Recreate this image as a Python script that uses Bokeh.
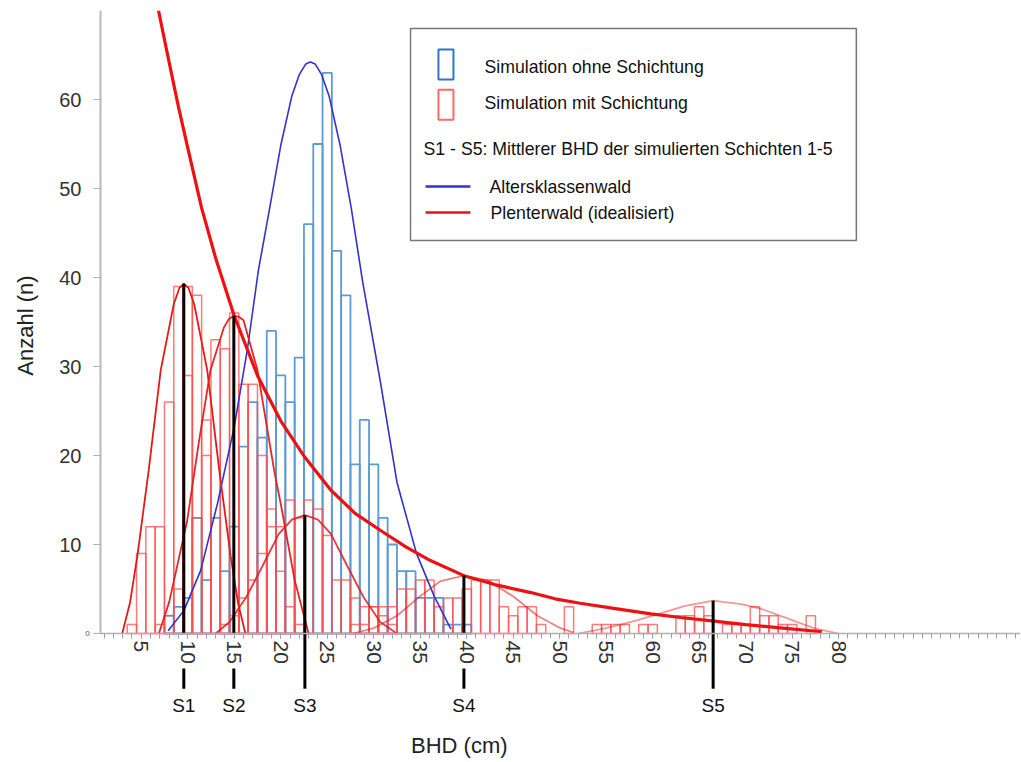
from math import pi
from bokeh.plotting import figure
from bokeh.models import FixedTicker, Range1d
from bokeh.core.properties import value
from bokeh.embed import file_html
from bokeh.resources import INLINE

FONT = "Liberation Sans"

# ---------------- data ----------------
# Simulation ohne Schichtung (blue histogram), BHD class -> count
blue_bins = [8, 9, 10, 11, 12, 13, 14, 15, 16, 17, 18, 19, 20, 21, 22, 23, 24, 25, 26,
             27, 28, 29, 30, 31, 32, 33, 34, 35, 36, 37, 38, 39, 40]
blue_counts = [2, 3, 4, 13, 6, 13, 7, 12, 21, 26, 22, 34, 29, 26, 31, 46, 55, 63, 43,
               38, 19, 24, 19, 13, 10, 7, 7, 4, 4, 4, 1, 1, 1]

# Simulation mit Schichtung (red histograms, one per simulated layer)
red_s1_bins = [4, 5, 6, 7, 8, 9, 10, 11, 12]
red_s1_counts = [1, 9, 12, 12, 26, 39, 39, 38, 24]
red_s2_bins = [7, 8, 9, 10, 11, 12, 13, 14, 15, 16, 17, 18, 19, 20, 21, 22]
red_s2_counts = [1, 2, 5, 29, 13, 20, 33, 32, 36, 28, 28, 20, 14, 7, 3, 1]
red_s3_bins = [14, 15, 16, 17, 18, 19, 20, 21, 22, 23, 24, 25, 26, 27, 28, 29, 30, 31, 32]
red_s3_counts = [1, 2, 4, 6, 9, 12, 12, 15, 13, 15, 14, 11, 6, 6, 4, 3, 3, 2, 1]
red_s4_bins = [28, 29, 30, 31, 32, 33, 34, 35, 36, 37, 38, 39, 40, 41, 42, 43, 44, 45,
               46, 47, 48, 51]
red_s4_counts = [1, 1, 3, 3, 3, 5, 5, 6, 6, 3, 4, 4, 5, 6, 6, 6, 3, 2, 3, 3, 1, 3]
red_s5_bins = [54, 55, 56, 57, 59, 60, 63, 64, 65, 66, 68, 69, 70, 71, 72, 73, 74, 75, 77]
red_s5_counts = [1, 1, 1, 1, 1, 1, 2, 2, 3, 2, 1, 1, 1, 3, 2, 2, 1, 1, 2]

# Altersklassenwald (blue curve)
aklw_x = [7.9, 9.6, 11.4, 13.2, 15.0, 16.4, 17.6, 18.8, 20.0, 21.2, 22.0, 22.7, 23.2,
          23.7, 24.4, 25.2, 26.4, 27.6, 28.8, 30.7, 32.5, 34.6, 36.5, 38.3]
aklw_y = [0.3, 2.6, 7.1, 14.6, 23.2, 31.8, 40.8, 47.7, 54.8, 60.4, 62.8, 64.0, 64.2,
          64.0, 62.8, 60.4, 54.8, 47.7, 39.6, 28.4, 17.0, 9.0, 4.2, 0.5]

# Plenterwald (idealisiert), thick red curve
plw_x = [6.86, 8.0, 9.0, 10.0, 11.5, 13.0, 15.0, 17.5, 20.0, 22.6, 25.4, 28.0, 30.7,
         33.5, 36.1, 39.7, 43.0, 46.9, 49.5, 52.2, 56.0, 59.8, 63.0, 66.6, 70.0, 74.0, 78.2]
plw_y = [70.0, 64.2, 59.2, 54.6, 47.8, 42.2, 35.7, 29.0, 23.9, 19.8, 16.1, 13.5, 11.6,
         9.7, 8.2, 6.5, 5.5, 4.6, 3.9, 3.4, 2.8, 2.2, 1.8, 1.4, 1.0, 0.6, 0.2]

# fitted layer curves (thin red)
s1_curve_x = [2.96, 3.8, 4.6, 5.8, 7.1, 8.5, 9.1, 9.58, 10.1, 10.7, 12.1, 13.4, 14.6, 15.4, 16.2]
s1_curve_y = [0.0, 3.5, 8.8, 18.3, 29.6, 37.0, 38.8, 39.3, 38.8, 37.0, 29.6, 18.3, 8.8, 3.5, 0.0]
s2_curve_x = [6.9, 8.0, 9.95, 11.2, 12.45, 13.9, 14.4, 14.96, 15.5, 16.0, 17.5, 19.3, 20.0,
              21.5, 23.0]
s2_curve_y = [0.0, 3.5, 12.7, 21.5, 29.6, 34.4, 35.3, 35.7, 35.6, 35.2, 29.6, 18.3, 14.6,
              6.0, 0.0]
s3_curve_x = [13.0, 14.5, 16.3, 18.0, 19.8, 21.2, 22.6, 24.0, 25.4, 27.2, 28.9, 30.7, 32.5]
s3_curve_y = [0.0, 1.3, 4.1, 7.5, 11.2, 12.8, 13.3, 12.8, 11.2, 7.5, 4.1, 1.3, 0.0]
s4_curve_x = [27.8, 30.0, 32.5, 35.0, 37.2, 39.7, 42.2, 45.1, 47.6, 50.1, 51.5]
s4_curve_y = [0.0, 0.6, 2.0, 4.2, 5.9, 6.5, 6.0, 4.1, 2.0, 0.6, 0.1]
s5_curve_x = [52.0, 55.0, 58.0, 60.3, 63.5, 66.5, 69.5, 71.6, 74.5, 77.3, 80.0]
s5_curve_y = [0.0, 0.6, 1.4, 2.1, 3.1, 3.7, 3.3, 2.8, 1.7, 0.6, 0.0]

# mean BHD of the simulated layers
s_names = ["S1", "S2", "S3", "S4", "S5"]
s_mean = [9.58, 14.96, 22.6, 39.7, 66.5]
s_peak = [39.3, 35.7, 13.3, 6.5, 3.7]

x_tick_labels = [5, 10, 15, 20, 25, 30, 35, 40, 45, 50, 55, 60, 65, 70, 75, 80]
y_tick_labels = [0, 10, 20, 30, 40, 50, 60]

x_title = "BHD (cm)"
y_title = "Anzahl (n)"
legend_texts = ["Simulation ohne Schichtung", "Simulation mit Schichtung",
                "S1 - S5: Mittlerer BHD der simulierten Schichten 1-5",
                "Altersklassenwald", "Plenterwald (idealisiert)"]

# ---------------- figure ----------------
BLUE_BAR = "#5b9bd5"
RED_BAR = "#ff4d4d"
BLUE_LINE = "#3333cc"
RED_LINE = "#ee1111"

PX = 9.3          # pixels per cm
XL = -10.13       # data x at the left page edge
X0, X1 = 0.624, 99.55   # extent of the x axis
p = figure(width=1020, height=761, output_backend="svg", toolbar_location=None,
           x_range=Range1d(XL, X1), y_range=Range1d(-14.38, 70.0),
           min_border_left=0, min_border_right=0, min_border_top=10, min_border_bottom=0)
p.outline_line_color = None
p.xgrid.visible = False
p.ygrid.visible = False
p.background_fill_color = "white"

# axes (placed inside the frame at fixed data locations)
xa = p.xaxis[0]
xa.fixed_location = 0
xa.bounds = (X0, X1)
xa.ticker = FixedTicker(ticks=x_tick_labels, minor_ticks=list(range(1, 100)))
xa.major_label_orientation = "vertical"
xa.axis_line_color = "#b0b0b0"
xa.axis_line_width = 1.5
xa.major_tick_line_color = "#a0a0a0"
xa.minor_tick_line_color = "#a0a0a0"
xa.major_tick_out = 5
xa.major_tick_in = 0
xa.minor_tick_out = 5
xa.minor_tick_in = 0
xa.major_label_text_font = FONT
xa.major_label_text_font_size = "21px"
xa.major_label_text_color = "#333333"
xa.major_label_standoff = 2

ya = p.yaxis[0]
ya.fixed_location = X0
ya.bounds = (0, 70.5)
ya.ticker = FixedTicker(ticks=y_tick_labels)
ya.major_label_overrides = {0: ""}
ya.axis_line_color = "#b8b8b8"
ya.axis_line_width = 2
ya.major_tick_line_color = "#b0b0b0"
ya.major_tick_out = 7
ya.major_tick_in = 0
ya.minor_tick_line_color = None
ya.major_label_text_font = FONT
ya.major_label_text_font_size = "20px"
ya.major_label_text_color = "#333333"
ya.major_label_standoff = 12

# small zero label and axis titles
p.text(x=[X0 - 13 / PX], y=[0], text=["0"], text_font=value(FONT), text_font_size="8px",
       text_color="#555555", text_align="center", text_baseline="middle")
p.text(x=[X0 - 75 / PX], y=[34.6], text=[y_title], angle=pi / 2, text_font=value(FONT),
       text_font_size="22px", text_color="#222222", text_align="center",
       text_baseline="middle")
p.text(x=[39.2], y=[-12.6], text=[x_title], text_font=value(FONT), text_font_size="22px",
       text_color="#222222", text_align="center", text_baseline="middle")

# histograms (outlined bars)
p.quad(left=[b - 0.5 for b in blue_bins], right=[b + 0.5 for b in blue_bins],
       bottom=0, top=blue_counts, fill_alpha=0, line_color=BLUE_BAR, line_width=1.8)

for bins, counts in [(red_s1_bins, red_s1_counts), (red_s2_bins, red_s2_counts),
                     (red_s3_bins, red_s3_counts), (red_s4_bins, red_s4_counts),
                     (red_s5_bins, red_s5_counts)]:
    p.quad(left=[b - 0.5 for b in bins], right=[b + 0.5 for b in bins],
           bottom=0, top=counts, fill_alpha=0, line_color=RED_BAR, line_alpha=0.75,
           line_width=1.5)

# curves
p.line(aklw_x, aklw_y, line_color=BLUE_LINE, line_width=1.6)
layer_alpha = [1.0, 0.95, 0.85, 0.55, 0.45]
for (cx, cy), a in zip([(s1_curve_x, s1_curve_y), (s2_curve_x, s2_curve_y),
                        (s3_curve_x, s3_curve_y), (s4_curve_x, s4_curve_y),
                        (s5_curve_x, s5_curve_y)], layer_alpha):
    p.line(cx, cy, line_color="#e31a1a", line_width=1.8, line_alpha=a)
p.line(plw_x, plw_y, line_color=RED_LINE, line_width=3.2)

# S markers
S_BOTTOM = -6.2
LABEL_GAP = -3.93
for s, pk in zip(s_mean, s_peak):
    near_tick = abs(s - 5 * round(s / 5)) < 0.8
    if near_tick:
        p.segment(x0=[s, s], y0=[pk, LABEL_GAP], x1=[s, s], y1=[0, S_BOTTOM],
                  line_color="black", line_width=3)
    else:
        p.segment(x0=[s], y0=[pk], x1=[s], y1=[S_BOTTOM], line_color="black", line_width=3)
p.text(x=s_mean, y=[-8.1] * len(s_mean), text=s_names, text_font=value(FONT),
       text_font_size="19px", text_align="center", text_baseline="middle",
       text_color="#111111")

# legend box
LX0, LX1, LY0, LY1 = 33.96, 81.9, 44.16, 67.98
p.quad(left=[LX0], right=[LX1], bottom=[LY0], top=[LY1], fill_color="white",
       line_color="#777777", line_width=1.5)
p.rect(x=[37.77], y=[63.93], width=15, height=30, width_units="screen",
       height_units="screen", fill_alpha=0, line_color="#2e75c6", line_width=2)
p.rect(x=[37.77], y=[59.4], width=15, height=30, width_units="screen",
       height_units="screen", fill_alpha=0, line_color="#ff6a6a", line_width=2)
p.segment(x0=[35.57], y0=[50.22], x1=[40.4], y1=[50.22], line_color=BLUE_LINE, line_width=2.5)
p.segment(x0=[35.57], y0=[47.3], x1=[40.4], y1=[47.3], line_color=RED_LINE, line_width=2.5)
p.text(x=[41.91, 41.91, 35.36, 42.45, 42.56], y=[63.6, 59.66, 54.49, 50.22, 47.3],
       text=legend_texts, text_font=value(FONT), text_font_size="17.7px",
       text_align="left", text_baseline="middle", text_color="#111111")

open("out.html", "w").write(file_html(p, INLINE))
